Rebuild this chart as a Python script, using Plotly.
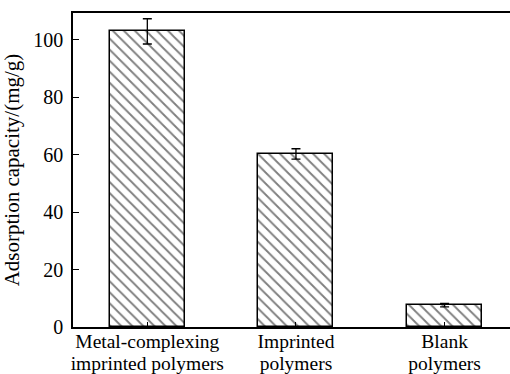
import plotly.graph_objects as go

# Adsorption capacity of the three polymer types
categories = ["Metal-complexing", "Imprinted", "Blank"]
categories_line2 = ["imprinted polymers", "polymers", "polymers"]
capacity = [103.0, 60.3, 7.6]
capacity_err = [4.4, 1.8, 0.6]
y_ticks = [0, 20, 40, 60, 80, 100]

FONT = "Times New Roman"
X_RANGE = [-0.5, 2.44]

fig = go.Figure(
    go.Bar(
        x=categories,
        y=capacity,
        width=0.505,
        marker=dict(
            color="white",
            line=dict(color="black", width=1.5),
            pattern=dict(shape="\\", size=7.8, solidity=0.24, fgcolor="black", bgcolor="white"),
        ),
        error_y=dict(type="data", array=capacity_err, visible=True,
                     color="black", thickness=1.3, width=4.5),
    )
)

fig.update_layout(
    width=510,
    height=374,
    margin=dict(l=73, r=0, t=13, b=47),
    paper_bgcolor="white",
    plot_bgcolor="white",
    showlegend=False,
    font=dict(family=FONT, size=18, color="black"),
    bargap=0,
    # second row of category labels, on an overlaid axis sharing the same positions
    xaxis2=dict(
        overlaying="x",
        side="bottom",
        range=X_RANGE,
        tickvals=list(range(len(categories_line2))),
        ticktext=categories_line2,
        ticks="",
        showline=False,
        showgrid=False,
        zeroline=False,
        automargin=False,
        tickfont=dict(family=FONT, size=19.5, color="black"),
        ticklabelstandoff=22,
    ),
)

fig.layout.xaxis.update(
    type="category",
    range=X_RANGE,
    automargin=False,
    showline=True,
    linecolor="black",
    linewidth=1.5,
    mirror=True,
    ticks="inside",
    ticklen=5,
    tickwidth=1,
    tickcolor="black",
    tickfont=dict(family=FONT, size=19.5, color="black"),
    ticklabelstandoff=-4,
    showgrid=False,
    zeroline=False,
)

fig.update_yaxes(
    range=[0, 109.4],
    tickvals=y_ticks,
    automargin=False,
    showline=True,
    linecolor="black",
    linewidth=1.5,
    ticks="inside",
    ticklen=6,
    tickwidth=1,
    tickcolor="black",
    tickfont=dict(family=FONT, size=20, color="black"),
    ticklabelstandoff=4,
    showgrid=False,
    zeroline=False,
    title=dict(text="Adsorption capacity/(mg/g)", font=dict(family=FONT, size=21), standoff=10),
)

# invisible trace so the overlaid label axis is drawn
fig.add_trace(go.Scatter(x=[None], y=[None], xaxis="x2", yaxis="y",
                         showlegend=False, hoverinfo="skip"))

fig.write_html("out.html")
